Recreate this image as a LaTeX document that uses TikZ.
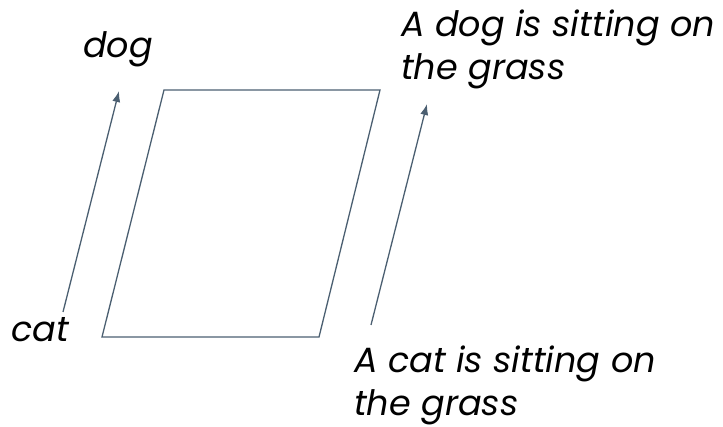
\documentclass[tikz,border=0pt]{standalone}
\usepackage{fontspec}
\setsansfont{Poppins}
\usepackage{tikz}
\usetikzlibrary{arrows.meta}

\definecolor{slate}{HTML}{4B5F71}

\begin{document}
\begin{tikzpicture}[
  x=1pt, y=-1pt,
  word/.style={font=\sffamily\itshape\fontsize{35}{43}\selectfont, inner sep=0pt, align=left},
  side/.style={draw=slate, line width=1.3pt, line join=miter},
  arr/.style={-{Latex[length=11pt,width=8pt]}, draw=slate, line width=1.3pt}
]
\useasboundingbox (0,0) rectangle (723,427);
% the parallelogram
\coordinate (bl) at (102,337);
\coordinate (br) at (319,337);
\coordinate (tr) at (380,90);
\coordinate (tl) at (164,90);
\draw[side] (bl) -- (br) -- (tr) -- (tl) -- cycle;
% words and sentences
\node[word, anchor=base] (dog) at (118,58) {dog};
\node[word, anchor=base west] (cat) at (11,342) {cat};
\node[word, anchor=base west] (dogsent) at (401,80) {A dog is sitting on\\the grass};
\node[word, anchor=base west] (catsent) at (354,416) {A cat is sitting on\\the grass};
% offsets
\coordinate (w0) at (63,312);
\coordinate (w1) at (119,91);
\coordinate (s0) at (371,325);
\coordinate (s1) at (427,104);
\draw[arr] (w0) -- (w1);
\draw[arr] (s0) -- (s1);
\end{tikzpicture}
\end{document}
